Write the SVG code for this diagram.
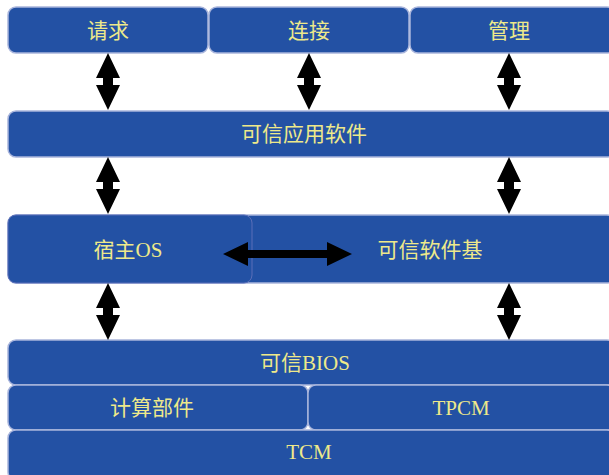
<svg xmlns="http://www.w3.org/2000/svg" width="609" height="475" viewBox="0 0 609 475">
<style>
.box{fill:#2351A4;stroke:#A9B5DC;stroke-width:1.5}
.t{font-family:"Liberation Serif","Noto Sans CJK SC",serif;font-size:21px;fill:#EEE98A;text-anchor:middle;dominant-baseline:central}
.arr{fill:#000}
</style>
<defs>
<path id="va" d="M0,0 L12,25 L5,25 L5,32 L12,32 L0,57 L-12,32 L-5,32 L-5,25 L-12,25 Z"/>
</defs>
<rect width="609" height="475" fill="#fff"/>
<g id="n-qingqiu"><rect class="box" x="8" y="7" width="200" height="46" rx="8"/><text class="t" x="108" y="31">请求</text></g>
<g id="n-lianjie"><rect class="box" x="209" y="7" width="200" height="46" rx="8"/><text class="t" x="309" y="31">连接</text></g>
<g id="n-guanli"><rect class="box" x="410" y="7" width="205" height="46" rx="8"/><text class="t" x="509" y="31">管理</text></g>
<g id="n-app"><rect class="box" x="8" y="111" width="607" height="46" rx="8"/><text class="t" x="304" y="134">可信应用软件</text></g>
<g id="n-tsb"><rect class="box" x="8" y="215" width="607" height="68" rx="8"/><text class="t" x="430" y="250">可信软件基</text></g>
<g id="n-os"><rect class="box" x="8" y="215" width="244" height="68" rx="8" style="stroke:#5B6FB8;stroke-width:1"/><text class="t" x="128" y="250">宿主OS</text></g>
<g id="n-bios"><rect class="box" x="8" y="340" width="607" height="45" rx="8"/><text class="t" x="305" y="363">可信BIOS</text></g>
<g id="n-calc"><rect class="box" x="8" y="385" width="300" height="45" rx="8"/><text class="t" x="152" y="408">计算部件</text></g>
<g id="n-tpcm"><rect class="box" x="308" y="385" width="307" height="45" rx="8"/><text class="t" x="461" y="408">TPCM</text></g>
<g id="n-tcm"><rect class="box" x="8" y="430" width="607" height="50" rx="8"/><text class="t" x="309" y="452">TCM</text></g>
<g id="connectors" class="arr">
<use href="#va" x="108" y="53"/>
<use href="#va" x="309" y="53"/>
<use href="#va" x="509" y="53"/>
<use href="#va" x="108" y="157"/>
<use href="#va" x="509" y="157"/>
<use href="#va" x="108" y="283"/>
<use href="#va" x="509" y="283"/>
<path d="M223,254 L248,242 L248,250 L327,250 L327,242 L352,254 L327,266 L327,258 L248,258 L248,266 Z"/>
</g>
</svg>
